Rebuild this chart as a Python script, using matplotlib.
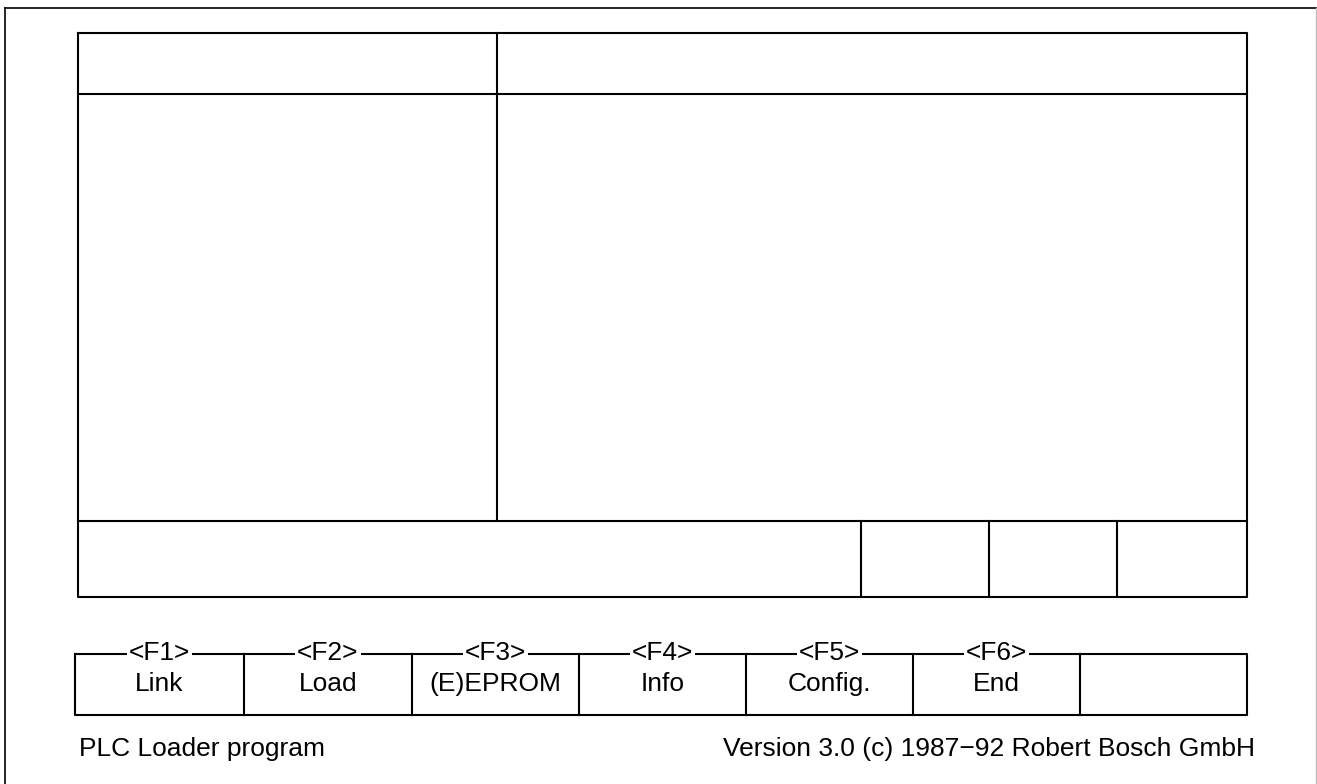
import matplotlib
matplotlib.use('Agg')
import matplotlib.pyplot as plt

plt.rcParams['font.family'] = ['Liberation Sans', 'DejaVu Sans']

# function key bar
key_names = ['<F1>', '<F2>', '<F3>', '<F4>', '<F5>', '<F6>', '']
key_labels = ['Link', 'Load', '(E)EPROM', 'Info', 'Config.', 'End', '']
footer_left = 'PLC Loader program'
footer_right = 'Version 3.0 (c) 1987\u221292 Robert Bosch GmbH'

# layout (pixels)
W, H = 1317, 784
box_l, box_r, box_t, box_b = 78, 1247, 33, 597
head_y, split_x, low_y = 94, 497, 521
low_div = [861, 989, 1117]
key_edges = [75, 244, 412, 579, 746, 913, 1080, 1247]
key_t, key_b = 654, 715

fig = plt.figure(figsize=(W / 100, H / 100), dpi=100)
ax = fig.add_axes([0, 0, 1, 1])
ax.set_xlim(0, W)
ax.set_ylim(H, 0)
ax.axis('off')

lw = 1.5
k = dict(color='black', lw=lw, solid_capstyle='projecting')
fs = 19

# outer frame
ax.plot([5, 5], [8, H + 5], color='black', lw=1.2)
ax.plot([5, 1316], [8, 8], color='black', lw=1.2)
ax.plot([1316, 1316], [8, H + 5], color='#bbbbbb', lw=1.0)

# main screen box
ax.plot([box_l, box_r, box_r, box_l, box_l], [box_t, box_t, box_b, box_b, box_t], **k)
ax.plot([box_l, box_r], [head_y, head_y], **k)
ax.plot([split_x, split_x], [box_t, low_y], **k)
ax.plot([box_l, box_r], [low_y, low_y], **k)
for x in low_div:
    ax.plot([x, x], [low_y, box_b], **k)

# key bar
ax.plot([key_edges[0], key_edges[-1], key_edges[-1], key_edges[0], key_edges[0]],
        [key_t, key_t, key_b, key_b, key_t], **k)
for x in key_edges[1:-1]:
    ax.plot([x, x], [key_t, key_b], **k)

for i, (name, lab) in enumerate(zip(key_names, key_labels)):
    cx = (key_edges[i] + key_edges[i + 1]) / 2
    if name:
        ax.text(cx, key_t - 1, name, ha='center', va='center', fontsize=fs,
                bbox=dict(facecolor='white', edgecolor='none', pad=1.5))
    if lab:
        ax.text(cx, 684, lab, ha='center', va='center', fontsize=fs)

ax.text(79, 749, footer_left, ha='left', va='center', fontsize=fs)
ax.text(1255, 749, footer_right, ha='right', va='center', fontsize=fs)

fig.savefig('out.png', dpi=100, facecolor='white')
